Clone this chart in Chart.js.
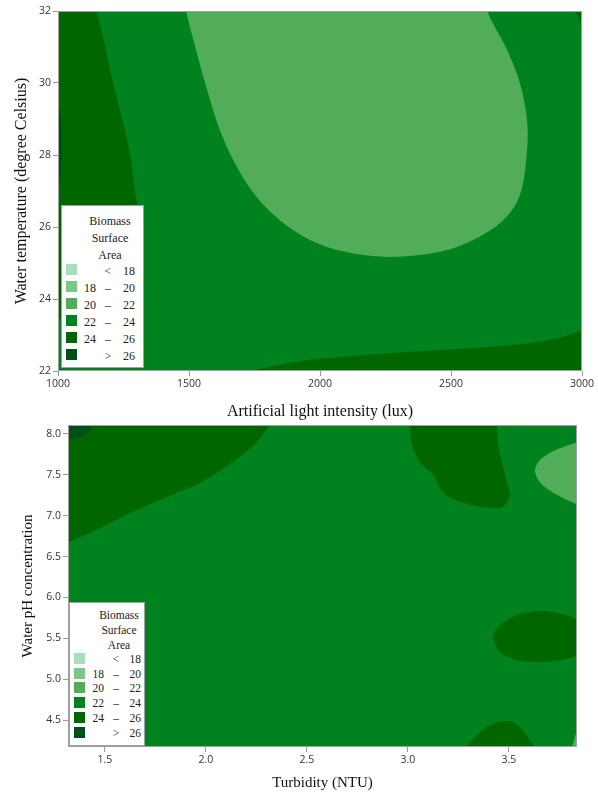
<!DOCTYPE html>
<html>
<head>
<meta charset="utf-8">
<script src="https://cdn.jsdelivr.net/npm/chart.js@4.4.1/dist/chart.umd.min.js"></script>
<style>
body { margin: 0; background: #fff; width: 598px; height: 793px; position: relative; overflow: hidden; }
.wrap { position: absolute; left: 0; width: 598px; }
.legend { position: absolute; background: #fff; border: 1px solid #a0a0a0; box-sizing: border-box;
          font-family: "Liberation Serif", serif; color: #222; }
.legend span { position: absolute; white-space: nowrap; line-height: 1; }
.legend i { position: absolute; display: block; }
</style>
</head>
<body>
<div class="wrap" style="top:0;height:422px"><canvas id="temp_chart" width="598" height="422"></canvas></div>
<div class="wrap" style="top:415px;height:378px"><canvas id="ph_chart" width="598" height="378"></canvas></div>
<div id="legend_top" class="legend" style="left:61px;top:205px;width:83px;height:163px;font-size:12px"></div>
<div id="legend_bot" class="legend" style="left:69px;top:602px;width:76px;height:144px;font-size:11.5px"></div>
<script>
// legend classes, shared by both panels
var legend_title = ["Biomass", "Surface", "Area"];
var legend_lo = ["", "18", "20", "22", "24", ""];
var legend_mid = ["<", "\u2013", "\u2013", "\u2013", "\u2013", ">"];
var legend_hi = ["18", "20", "22", "24", "26", "26"];
var legend_colors = ["#a6dfb9", "#7cc68a", "#52ad5a", "#00821f", "#006600", "#004f1a"];

// top panel: light intensity vs water temperature
var temp_range_x = [1000, 3000];
var temp_range_y = [22, 32];
var temp_ticks_x = [1000, 1500, 2000, 2500, 3000];
var temp_ticks_y = [22, 24, 26, 28, 30, 32];

var t_base_x = [900, 3100, 3100, 900];
var t_base_y = [21, 21, 33, 33];
var t_light_x = [1480, 1489, 1527, 1569, 1618, 1679, 1752, 1847, 1962, 2096, 2267, 2458, 2584, 2699, 2763, 2790, 2790, 2763, 2714, 2638, 2630];
var t_light_y = [32.5, 32, 30.92, 29.81, 28.69, 27.72, 26.89, 26.19, 25.64, 25.31, 25.17, 25.31, 25.64, 26.19, 26.89, 28.14, 28.97, 30.0, 30.92, 32.0, 32.5];
var t_left_x = [900, 1140, 1149, 1179, 1210, 1256, 1275, 1294, 1305, 1275, 1160, 1000, 900];
var t_left_y = [32.5, 32.5, 32, 31.06, 30, 28.69, 28, 27.03, 26.33, 25.08, 23.97, 23.42, 23.42];
var t_sliver_x = [980, 1000, 1012, 1015, 1012, 1000, 980];
var t_sliver_y = [29.5, 29.39, 28.97, 28.28, 27.58, 27.03, 27.0];
var t_corner_x = [2965, 2973, 3000, 3010, 3010];
var t_corner_y = [32.5, 32, 31.61, 31.4, 32.5];
var t_bottom_x = [1700, 1733, 1924, 2267, 2649, 2840, 2935, 3000, 3050, 3050, 1700];
var t_bottom_y = [21.9, 22.0, 22.28, 22.5, 22.67, 22.81, 22.97, 23.14, 23.25, 21.5, 21.5];

// bottom panel: turbidity vs pH
var ph_range_x = [1.317, 3.837];
var ph_range_y = [4.17, 8.11];
var ph_ticks_x = [1.5, 2.0, 2.5, 3.0, 3.5];
var ph_ticks_y = [4.5, 5.0, 5.5, 6.0, 6.5, 7.0, 7.5, 8.0];

var p_base_x = [1.2, 3.95, 3.95, 1.2];
var p_base_y = [4.0, 4.0, 8.3, 8.3];
var p_tl_x = [1.2, 1.317, 1.475, 1.639, 1.807, 1.970, 2.134, 2.252, 2.317, 2.35, 1.2];
var p_tl_y = [6.62, 6.68, 6.85, 7.05, 7.23, 7.40, 7.66, 7.90, 8.11, 8.25, 8.25];
var p_tl2_x = [1.25, 1.317, 1.376, 1.416, 1.436, 1.44, 1.25];
var p_tl2_y = [7.93, 7.93, 7.96, 8.02, 8.11, 8.25, 8.25];
var p_blob_x = [3.005, 3.010, 3.020, 3.059, 3.124, 3.173, 3.257, 3.406, 3.470, 3.505, 3.490, 3.465, 3.446, 3.441, 3.44];
var p_blob_y = [8.25, 8.11, 7.865, 7.657, 7.498, 7.29, 7.168, 7.094, 7.107, 7.253, 7.41, 7.657, 7.865, 8.11, 8.25];
var p_light_x = [3.9, 3.837, 3.728, 3.653, 3.629, 3.653, 3.728, 3.837, 3.9];
var p_light_y = [7.93, 7.90, 7.80, 7.68, 7.56, 7.41, 7.27, 7.14, 7.1];
var p_oval_x = [3.416, 3.455, 3.540, 3.653, 3.762, 3.837, 3.876, 3.837, 3.752, 3.653, 3.540, 3.455, 3.416];
var p_oval_y = [5.515, 5.662, 5.785, 5.834, 5.797, 5.723, 5.515, 5.295, 5.234, 5.209, 5.234, 5.332, 5.515];
var p_foot_x = [3.28, 3.292, 3.356, 3.431, 3.505, 3.554, 3.604, 3.629, 3.64];
var p_foot_y = [4.05, 4.17, 4.352, 4.463, 4.487, 4.414, 4.255, 4.17, 4.05];
var p_edge_x = [3.80, 3.812, 3.837, 3.9, 3.9];
var p_edge_y = [4.05, 4.17, 4.38, 4.5, 4.05];

function region(xs, ys, cls, tension)
{
    var pts = [];
    for (let i = 0; i < xs.length; i++)
	pts.push({ x: xs[i], y: ys[i] });
    pts.push({ x: xs[0], y: ys[0] });
    return {
	data: pts,
	showLine: true,
	fill: 'shape',
	backgroundColor: legend_colors[cls],
	borderWidth: 0,
	pointRadius: 0,
	tension: tension,
	capBezierPoints: false
    };
}

var frame = {
    id: 'frame',
    afterDatasetsDraw: function(chart) {
	var a = chart.chartArea, ctx = chart.ctx;
	ctx.save();
	ctx.strokeStyle = '#a0a0a0';
	ctx.lineWidth = 1;
	ctx.strokeRect(a.left + 0.5, a.top + 0.5, a.right - a.left - 1, a.bottom - a.top - 1);
	ctx.restore();
    }
};

function axis(range, ticks, title, size, pad, fit, dec)
{
    return {
	type: 'linear',
	min: range[0],
	max: range[1],
	afterBuildTicks: function(s) { s.ticks = ticks.map(function(v) { return { value: v }; }); },
	afterFit: fit,
	grid: { display: true, drawOnChartArea: false, drawTicks: true, tickLength: 5, color: '#999' },
	border: { display: false },
	ticks: {
	    padding: 2,
	    color: '#333',
	    font: { family: 'Open Sans', size: 10.5 },
	    callback: function(v) { return dec ? v.toFixed(1) : v; }
	},
	title: {
	    display: true,
	    text: title,
	    color: '#111',
	    font: { family: 'Liberation Serif', size: size },
	    padding: pad
	}
    };
}

function draw(canva_id, layers, sx, sy, padding)
{
    var datasets = layers.slice().reverse();
    new Chart(document.getElementById(canva_id), {
	type: 'scatter',
	data: { datasets: datasets },
	options: {
	    responsive: false,
	    animation: false,
	    layout: { padding: padding },
	    plugins: { legend: { display: false }, tooltip: { enabled: false } },
	    scales: { x: sx, y: sy }
	},
	plugins: [frame]
    });
}

function make_legend(id, g)
{
    var box = document.getElementById(id);
    var html = "";
    for (let i = 0; i < legend_title.length; i++)
	html += `<span style="left:${g.tx}px;top:${g.t0 + i * g.ts}px;transform:translateX(-50%)">${legend_title[i]}</span>`;
    for (let i = 0; i < legend_colors.length; i++) {
	var y = g.r0 + i * g.rs;
	html += `<i style="left:4px;top:${y - 1}px;width:11px;height:11px;background:${legend_colors[i]}"></i>`;
	html += `<span style="right:${g.w - g.c1}px;top:${y}px">${legend_lo[i]}</span>`;
	html += `<span style="left:${g.c2}px;top:${y}px;transform:translateX(-50%)">${legend_mid[i]}</span>`;
	html += `<span style="right:${g.w - g.c3}px;top:${y}px">${legend_hi[i]}</span>`;
    }
    box.innerHTML = html;
}

draw('temp_chart', [
    region(t_base_x, t_base_y, 3, 0),
    region(t_light_x, t_light_y, 2, 0.35),
    region(t_left_x, t_left_y, 4, 0.3),
    region(t_sliver_x, t_sliver_y, 5, 0.3),
    region(t_corner_x, t_corner_y, 4, 0),
    region(t_bottom_x, t_bottom_y, 4, 0.3)
], axis(temp_range_x, temp_ticks_x, 'Artificial light intensity (lux)', 16, { top: 0, bottom: 1 },
	function(s) { s.height = 51; }, false),
   axis(temp_range_y, temp_ticks_y, 'Water temperature (degree Celsius)', 16, { top: 12, bottom: 0 },
	function(s) { s.width = 58; }, false),
   { top: 11, right: 16, left: 0, bottom: 0 });

draw('ph_chart', [
    region(p_base_x, p_base_y, 3, 0),
    region(p_tl_x, p_tl_y, 4, 0.3),
    region(p_tl2_x, p_tl2_y, 5, 0.3),
    region(p_blob_x, p_blob_y, 4, 0.3),
    region(p_light_x, p_light_y, 2, 0.3),
    region(p_oval_x, p_oval_y, 4, 0.3),
    region(p_foot_x, p_foot_y, 4, 0.3),
    region(p_edge_x, p_edge_y, 2, 0)
], axis(ph_range_x, ph_ticks_x, 'Turbidity (NTU)', 15, { top: 0, bottom: 1 },
	function(s) { s.height = 46; }, true),
   axis(ph_range_y, ph_ticks_y, 'Water pH concentration', 15, { top: 19, bottom: 0 },
	function(s) { s.width = 68; }, true),
   { top: 10, right: 21, left: 0, bottom: 0 });

make_legend('legend_top', { w: 83, tx: 48, t0: 9, ts: 17, r0: 59, rs: 17, c1: 36, c2: 46, c3: 75 });
make_legend('legend_bot', { w: 76, tx: 49, t0: 7, ts: 15, r0: 51, rs: 14.7, c1: 36, c2: 46, c3: 73 });
</script>
</body>
</html>
